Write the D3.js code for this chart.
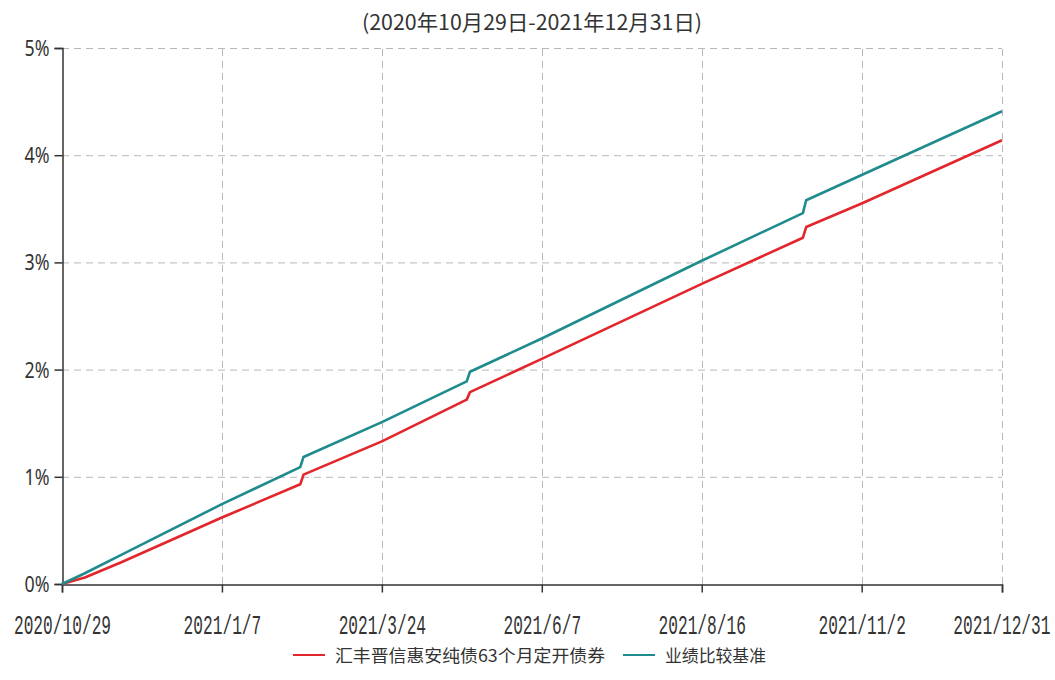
<!DOCTYPE html>
<html>
<head>
<meta charset="utf-8">
<script src="https://cdn.jsdelivr.net/npm/d3@7"></script>
<style>
  body { margin: 0; background: #fff; }
  svg { display: block; }
</style>
</head>
<body>
<svg id="chart" width="1055" height="680"></svg>
<script>
// trading-day index since 2020/10/29 for each sampled point
const dayIndex = [0, 7, 18, 49, 73, 74, 98, 124, 125, 147, 196, 227, 228, 245, 288]
// cumulative return, %
const fundValues = [0, 0.06, 0.2, 0.62, 0.93, 1.02, 1.33, 1.72, 1.79, 2.10, 2.80, 3.23, 3.33, 3.55, 4.14]
const benchValues = [0, 0.1, 0.27, 0.745, 1.09, 1.185, 1.51, 1.89, 1.98, 2.29, 3.015, 3.46, 3.58, 3.815, 4.41]

const tickIndex = [0, 49, 98, 147, 196, 245, 288]
const tickLabels = ["2020/10/29", "2021/1/7", "2021/3/24", "2021/6/7", "2021/8/16", "2021/11/2", "2021/12/31"]
const yTicks = [0, 1, 2, 3, 4, 5]

const seriesNames = ["汇丰晋信惠安纯债63个月定开债券", "业绩比较基准"]
const seriesColors = ["#e3262b", "#1f8b8c"]
const title = "(2020年10月29日-2021年12月31日)"

const margin = { left: 62, right: 53, top: 48, bottom: 96 }
const width = 1055, height = 680

const svg = d3.select("#chart")

const x = d3.scaleLinear()
    .domain([0, 288])
    .range([margin.left, width - margin.right])
const y = d3.scaleLinear()
    .domain([0, 5])
    .range([height - margin.bottom, margin.top])

// grid
const grid = svg.append("g")
    .attr("stroke", "#b8b8b8")
    .attr("stroke-width", 1)
    .attr("stroke-dasharray", "7,5")
grid.selectAll(".hgrid")
    .data(yTicks.filter(d => d > 0))
    .join("line")
    .attr("x1", x(0)).attr("x2", x(288))
    .attr("y1", d => y(d) + 0.5).attr("y2", d => y(d) + 0.5)
grid.selectAll(".vgrid")
    .data(tickIndex.filter(d => d > 0))
    .join("line")
    .attr("x1", d => Math.round(x(d)) + 0.5).attr("x2", d => Math.round(x(d)) + 0.5)
    .attr("y1", y(0)).attr("y2", y(5))

// axes
const yAxis = svg.append("g")
    .attr("transform", `translate(${margin.left + 0.5},0)`)
    .call(d3.axisLeft(y).tickValues(yTicks).tickSize(8).tickPadding(5).tickFormat(d => d + "%"))
yAxis.select(".domain").attr("stroke", "#333").attr("stroke-width", 1.5)
yAxis.selectAll(".tick line").attr("stroke", "#333").attr("stroke-width", 1.5)
yAxis.selectAll(".tick text")
    .attr("fill", "#333")
    .attr("font-family", "'Noto Sans', 'Open Sans', sans-serif")
    .attr("font-size", 22)
    .attr("textLength", 25)
    .attr("lengthAdjust", "spacingAndGlyphs")
    .attr("dy", "0.34em")

// x labels: narrow, tall digits -> small mono font stretched vertically
const stretch = 1.75
const xAxis = svg.append("g")
    .attr("transform", `translate(0,${y(0) + 0.5})`)
    .call(d3.axisBottom(x).tickValues(tickIndex).tickSize(8).tickPadding(10)
        .tickFormat((d, i) => tickLabels[i]))
xAxis.select(".domain").attr("stroke", "#333").attr("stroke-width", 1.5)
xAxis.selectAll(".tick line").attr("stroke", "#333").attr("stroke-width", 1.5)
xAxis.selectAll(".tick text")
    .attr("fill", "#333")
    .attr("font-family", "'Liberation Mono', 'DejaVu Sans Mono', monospace")
    .attr("font-size", 16.2)
    .attr("y", 49.5 / stretch)
    .attr("dy", 0)
    .attr("transform", `scale(1,${stretch})`)
// last label sits against the right edge
xAxis.selectAll(".tick text")
    .filter((d, i) => i === tickIndex.length - 1)
    .attr("text-anchor", "end")
    .attr("x", 48)

// lines
const seriesData = [fundValues, benchValues]
const line = d3.line()
    .x((d, i) => x(dayIndex[i]))
    .y(d => y(d))

svg.append("g")
    .selectAll("path")
    .data(seriesData)
    .join("path")
    .attr("fill", "none")
    .attr("stroke", (d, i) => seriesColors[i])
    .attr("stroke-width", 2.6)
    .attr("stroke-linejoin", "round")
    .attr("d", line)

// title
svg.append("text")
    .attr("x", 532)
    .attr("y", 30)
    .attr("text-anchor", "middle")
    .attr("fill", "#333")
    .attr("font-family", "'Noto Sans CJK SC', sans-serif")
    .attr("font-size", 21)
    .attr("textLength", 340)
    .attr("lengthAdjust", "spacingAndGlyphs")
    .text(title)

// legend
const legendItems = [
    { x: 293, textLen: 270 },
    { x: 623, textLen: 101 }
]
const legend = svg.append("g")
legendItems.forEach((item, i) => {
    legend.append("line")
        .attr("x1", item.x).attr("x2", item.x + 32)
        .attr("y1", 655).attr("y2", 655)
        .attr("stroke", seriesColors[i])
        .attr("stroke-width", 2)
    legend.append("text")
        .attr("x", item.x + 42)
        .attr("y", 662)
        .attr("fill", "#333")
        .attr("font-family", "'Noto Sans CJK SC', sans-serif")
        .attr("font-size", 17)
        .attr("textLength", item.textLen)
        .attr("lengthAdjust", "spacingAndGlyphs")
        .text(seriesNames[i])
})
</script>
</body>
</html>
